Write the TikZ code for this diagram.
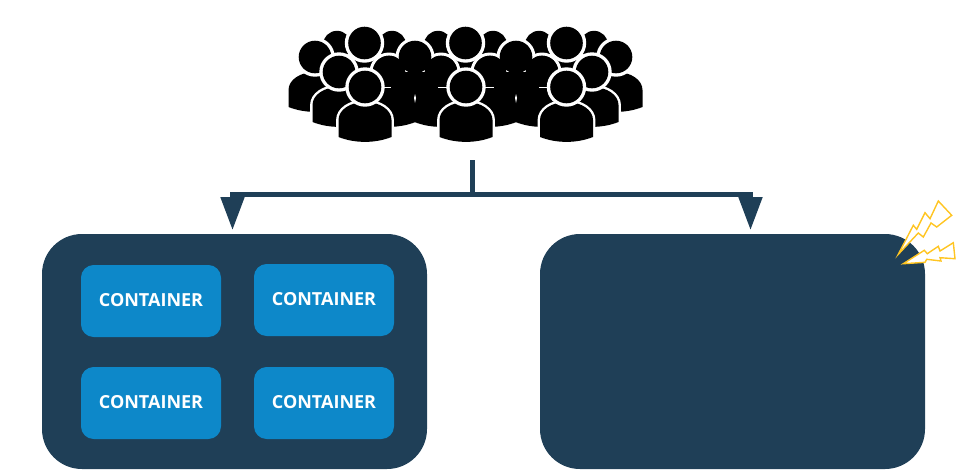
\documentclass[tikz,border=0pt]{standalone}
\usepackage{fontspec}
\setmainfont{Open Sans}
\usetikzlibrary{arrows.meta}
\definecolor{navy}{HTML}{1F3F57}
\definecolor{contblue}{HTML}{0D88C9}
\definecolor{boltyel}{HTML}{FFC522}
\newcommand{\bodypath}{(-26.5,50) -- (-26.5,33) .. controls (-26.5,23) and (-15,15) .. (0,15)
      .. controls (15,15) and (26.5,23) .. (26.5,33) -- (26.5,50)
      .. controls (10,56.5) and (-10,56.5) .. (-26.5,50) -- cycle}
\tikzset{
  panel/.style={fill=navy,draw=none,rounded corners=30pt,inner sep=0pt,minimum width=288.75pt,minimum height=176.25pt},
  contbox/.style={fill=contblue,draw=none,rounded corners=9.5pt,inner sep=0pt,minimum width=105pt,minimum height=54pt,text=white,font=\fontsize{13.5pt}{15pt}\selectfont\bfseries},
  conn/.style={draw=navy,line width=3.75pt},
  connarrow/.style={conn,-{Triangle[width=17.25pt,length=24.75pt,inset=0pt]}},
  bolt/.style={fill=white,draw=boltyel,line width=1.05pt,line join=miter},
  person/.pic={
    \draw[white,line width=3.6pt,fill=white] \bodypath;
    \fill[black] \bodypath;
    \fill[white] (0,0) circle (19.7);
    \fill[black] (0,0) circle (16.3);
  },
  ringhead/.pic={
    \fill[white] (0,0) circle (19.5);
    \fill[black] (0,0) circle (16.3);
  },
  plainbody/.pic={ \fill[black] \bodypath; }
}
\begin{document}
\begin{tikzpicture}[x=0.75pt,y=-0.75pt]
\useasboundingbox (0,0) rectangle (959,472);
% crowd: back row
\foreach \d in {0,101,202}{
  \pic[scale=.87] at (337+\d,45) {person};
  \pic[scale=.87] at (392+\d,45) {person};
  \pic at (364.5+\d,43) {person};
}
% outer middle people
\pic at (315,57) {person};
\pic at (616,57) {person};
\pic at (339,72) {person};
\pic at (592,72) {person};
% inner middle people, merged into one black mass
\foreach \c in {415,516}{
  \pic at (\c-26,72) {ringhead};
  \pic at (\c+26,72) {ringhead};
  \pic at (\c,57) {ringhead};
  \fill[black] (\c-22,72) rectangle (\c+22,110);
  \pic at (\c-26,72) {plainbody};
  \pic at (\c+26,72) {plainbody};
  \fill[black] (\c-26,72) circle (16.3);
  \fill[black] (\c+26,72) circle (16.3);
  \fill[white] (\c,94) -- (\c+1,98) -- (\c,103) -- (\c-1,98) -- cycle;
}
% short white ticks beside the front heads
\draw[white,line width=.9pt] (380,87.5) -- (391,87.5);
\draw[white,line width=.9pt] (438,87.5) -- (494,87.5);
\draw[white,line width=.9pt] (539,87.5) -- (550,87.5);
% front row
\foreach \x in {365,466,566.5}{ \pic at (\x,87) {person}; }
% panels
\node[panel] (left) at (234.5,351.5) {};
\node[panel] (right) at (732.5,351.5) {};
\node[contbox] (c1) at (151,301) {\raisebox{1.5pt}{CONTAINER}};
\node[contbox] (c2) at (324,300) {\raisebox{1.5pt}{CONTAINER}};
\node[contbox] (c3) at (151,403) {\raisebox{1.5pt}{CONTAINER}};
\node[contbox] (c4) at (324,403) {\raisebox{2.2pt}{CONTAINER}};
% connectors
\coordinate (trunk) at (472.5,160);
\coordinate (jn) at (472.5,194.5);
\coordinate (tipL) at (232.5,230);
\coordinate (tipR) at (750.5,230);
\draw[conn] (trunk) -- (jn);
\draw[connarrow] (jn) -| (tipL);
\draw[connarrow] (jn) -| (tipR);
% lightning
\draw[bolt] (898.3,254.3) -- (913.3,225.3) -- (916.7,229.3) -- (925,212.7) -- (930,218.7) -- (938.3,201) -- (951.7,215.3) -- (936.7,227) -- (931,223) -- (923.3,237) -- (918.3,233) -- cycle;
\draw[bolt] (903.3,263.7) -- (924.3,250.3) -- (927.3,253.7) -- (938.3,246.3) -- (940,251) -- (953.3,242.7) -- (955,258.7) -- (940,257.7) -- (941,261) -- (926.7,259.3) -- (925,262.3) -- cycle;
\end{tikzpicture}
\end{document}
